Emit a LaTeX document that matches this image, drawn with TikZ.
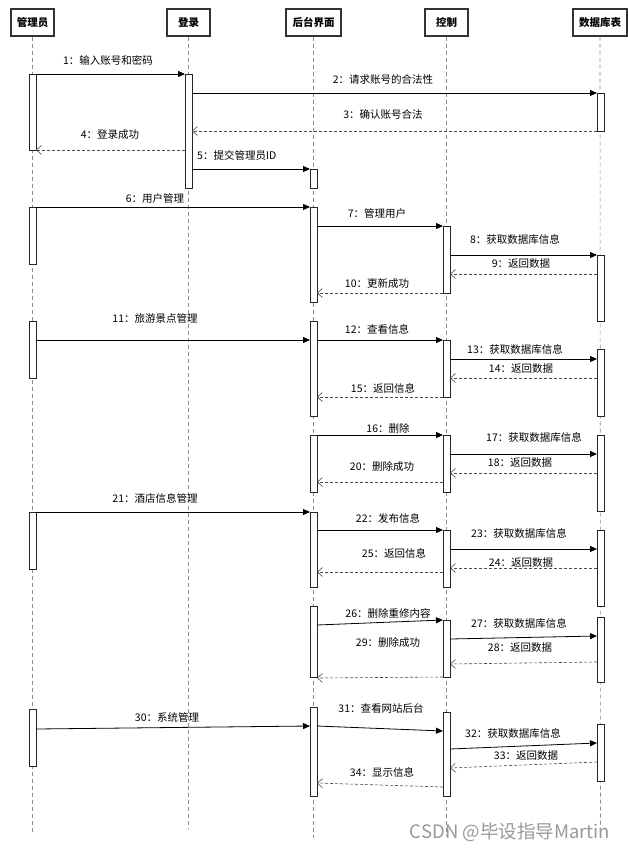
\documentclass[tikz,border=0pt]{standalone}
\usepackage{fontspec}
\setmainfont{Noto Sans CJK SC}
\usetikzlibrary{arrows.meta}
\tikzset{
  head/.style={draw=black!80, line width=1.1pt, fill=white, minimum height=27pt, inner sep=0pt, font=\bfseries\fontsize{10.5}{12}\selectfont},
  life/.style={draw=black!45, line width=0.6pt, dash pattern=on 4pt off 3pt},
  act/.style={draw=black!85, fill=white, line width=0.8pt, minimum width=7pt, inner sep=0pt, outer sep=0pt},
  sync/.style={draw=black, line width=0.8pt, -{Triangle[length=7pt,width=6pt]}},
  ret/.style={draw=black!70, line width=0.6pt, dash pattern=on 3pt off 2pt, -{Straight Barb[length=5pt,width=9pt]}},
  lbl/.style={font=\fontsize{10.5}{12}\selectfont, inner sep=0pt},
  wm/.style={font=\fontsize{18.5}{20}\selectfont, text=black!40, inner sep=0pt}
}
\newcommand\actb[4]{\node[act, minimum height={(#4-#3)*1pt}] (#1) at (#2,{(#3+#4)/2}) {};}
\begin{document}
\begin{tikzpicture}[x=1pt,y=-1pt]
\useasboundingbox[fill=white] (0,0) rectangle (628,851);
% heads
\node[head, minimum width=43pt] (hA) at (32.5,22.5) {管理员};
\node[head, minimum width=43pt] (hL) at (188.5,22.5) {登录};
\node[head, minimum width=55pt] (hH) at (313.5,22.5) {后台界面};
\node[head, minimum width=43pt] (hK) at (446.5,22.5) {控制};
\node[head, minimum width=54pt] (hD) at (600,22.5) {数据库表};
% lifelines
\coordinate (eA) at (32.5,832);
\coordinate (eL) at (188.5,828);
\coordinate (eH) at (313.5,838);
\coordinate (eK) at (446.5,836);
\coordinate (eD) at (600.5,836);
\draw[life] (hA.south) -- (eA);
\draw[life] (hL.south) -- (eL);
\draw[life] (hH.south) -- (eH);
\draw[life] (hK.south) -- (eK);
\draw[life] (hD.south) -- (eD);
% activations
\actb{A1}{32.5}{74}{150}
\actb{A2}{32.5}{207}{264}
\actb{A3}{32.5}{321}{378}
\actb{A4}{32.5}{512}{569}
\actb{A5}{32.5}{709}{766}
\actb{L1}{188.5}{74}{188}
\actb{H1}{313.5}{169}{188}
\actb{H2}{313.5}{207}{302}
\actb{H3}{313.5}{321}{416}
\actb{H4}{313.5}{435}{492}
\actb{H5}{313.5}{512}{587}
\actb{H6}{313.5}{606}{677}
\actb{H7}{313.5}{707}{796}
\actb{K1}{446.5}{226}{293}
\actb{K2}{446.5}{340}{397}
\actb{K3}{446.5}{435}{492}
\actb{K4}{446.5}{530}{587}
\actb{K5}{446.5}{620}{677}
\actb{K6}{446.5}{712}{796}
\actb{D1}{600.5}{93}{131}
\actb{D2}{600.5}{255}{321}
\actb{D3}{600.5}{349}{416}
\actb{D4}{600.5}{435}{511}
\actb{D5}{600.5}{530}{606}
\actb{D6}{600.5}{617}{682}
\actb{D7}{600.5}{724}{781}
% messages
\draw[sync] (A1.east |- 0,74) -- (L1.west |- 0,74);
\node[lbl] (m1) at (108,60) {1：输入账号和密码};
\draw[sync] (L1.east |- 0,93) -- (D1.west |- 0,93);
\node[lbl] (m2) at (383,80) {2：请求账号的合法性};
\draw[ret] (D1.west |- 0,131) -- (L1.east |- 0,131);
\node[lbl] (m3) at (383,115) {3：确认账号合法};
\draw[ret] (L1.west |- 0,150) -- (A1.east |- 0,150);
\node[lbl] (m4) at (110,135) {4：登录成功};
\draw[sync] (L1.east |- 0,169) -- (H1.west |- 0,169);
\node[lbl, anchor=west] (m5) at (197,155) {5：提交管理员ID};
\draw[sync] (A2.east |- 0,207) -- (H2.west |- 0,207);
\node[lbl] (m6) at (155,199) {6：用户管理};
\draw[sync] (H2.east |- 0,226) -- (K1.west |- 0,226);
\node[lbl] (m7) at (377,214) {7：管理用户};
\draw[sync] (K1.east |- 0,255) -- (D2.west |- 0,255);
\node[lbl] (m8) at (515,239) {8：获取数据库信息};
\draw[ret] (D2.west |- 0,274) -- (K1.east |- 0,274);
\node[lbl] (m9) at (521,264) {9：返回数据};
\draw[ret] (K1.west |- 0,293) -- (H2.east |- 0,293);
\node[lbl] (m10) at (377,284) {10：更新成功};
\draw[sync] (A3.east |- 0,340) -- (H3.west |- 0,340);
\node[lbl] (m11) at (155,318) {11：旅游景点管理};
\draw[sync] (H3.east |- 0,340) -- (K2.west |- 0,340);
\node[lbl] (m12) at (377,329) {12：查看信息};
\draw[sync] (K2.east |- 0,359) -- (D3.west |- 0,359);
\node[lbl] (m13) at (515,349) {13：获取数据库信息};
\draw[ret] (D3.west |- 0,378) -- (K2.east |- 0,378);
\node[lbl] (m14) at (521,369) {14：返回数据};
\draw[ret] (K2.west |- 0,397) -- (H3.east |- 0,397);
\node[lbl] (m15) at (383,388) {15：返回信息};
\draw[sync] (H4.east |- 0,435) -- (K3.west |- 0,435);
\node[lbl] (m16) at (388,428) {16：删除};
\draw[sync] (K3.east |- 0,454) -- (D4.west |- 0,454);
\node[lbl] (m17) at (534,437) {17：获取数据库信息};
\draw[ret] (D4.west |- 0,473) -- (K3.east |- 0,473);
\node[lbl] (m18) at (520,463) {18：返回数据};
\draw[ret] (K3.west |- 0,482) -- (H4.east |- 0,482);
\node[lbl] (m20) at (382,467) {20：删除成功};
\draw[sync] (A4.east |- 0,512) -- (H5.west |- 0,512);
\node[lbl] (m21) at (155,498) {21：酒店信息管理};
\draw[sync] (H5.east |- 0,530) -- (K4.west |- 0,530);
\node[lbl] (m22) at (388,518) {22：发布信息};
\draw[sync] (K4.east |- 0,549) -- (D5.west |- 0,549);
\node[lbl] (m23) at (519,533) {23：获取数据库信息};
\draw[ret] (D5.west |- 0,568) -- (K4.east |- 0,568);
\node[lbl] (m24) at (521,563) {24：返回数据};
\draw[ret] (K4.west |- 0,572) -- (H5.east |- 0,572);
\node[lbl] (m25) at (394,553) {25：返回信息};
\draw[sync] (H6.east |- 0,625) -- (K5.west |- 0,620);
\node[lbl] (m26) at (388,613) {26：删除重修内容};
\draw[sync] (K5.east |- 0,639) -- (D6.west |- 0,636);
\node[lbl] (m27) at (519,623) {27：获取数据库信息};
\draw[ret] (D6.west |- 0,662) -- (K5.east |- 0,664);
\node[lbl] (m28) at (520,648) {28：返回数据};
\draw[ret] (K5.west |- 0,677) -- (H6.east |- 0,678);
\node[lbl] (m29) at (388,643) {29：删除成功};
\draw[sync] (A5.east |- 0,729) -- (H7.west |- 0,726);
\node[lbl] (m30) at (167,717) {30：系统管理};
\draw[sync] (H7.east |- 0,726) -- (K6.west |- 0,731);
\node[lbl] (m31) at (381,708) {31：查看网站后台};
\draw[sync] (K6.east |- 0,749) -- (D7.west |- 0,743);
\node[lbl] (m32) at (513,733) {32：获取数据库信息};
\draw[ret] (D7.west |- 0,762) -- (K6.east |- 0,768);
\node[lbl] (m33) at (526,756) {33：返回数据};
\draw[ret] (K6.west |- 0,787) -- (H7.east |- 0,783);
\node[lbl] (m34) at (382,772) {34：显示信息};
% watermark
\node[wm] (wmk) at (510,832) {CSDN @毕设指导Martin};
\end{tikzpicture}
\end{document}
